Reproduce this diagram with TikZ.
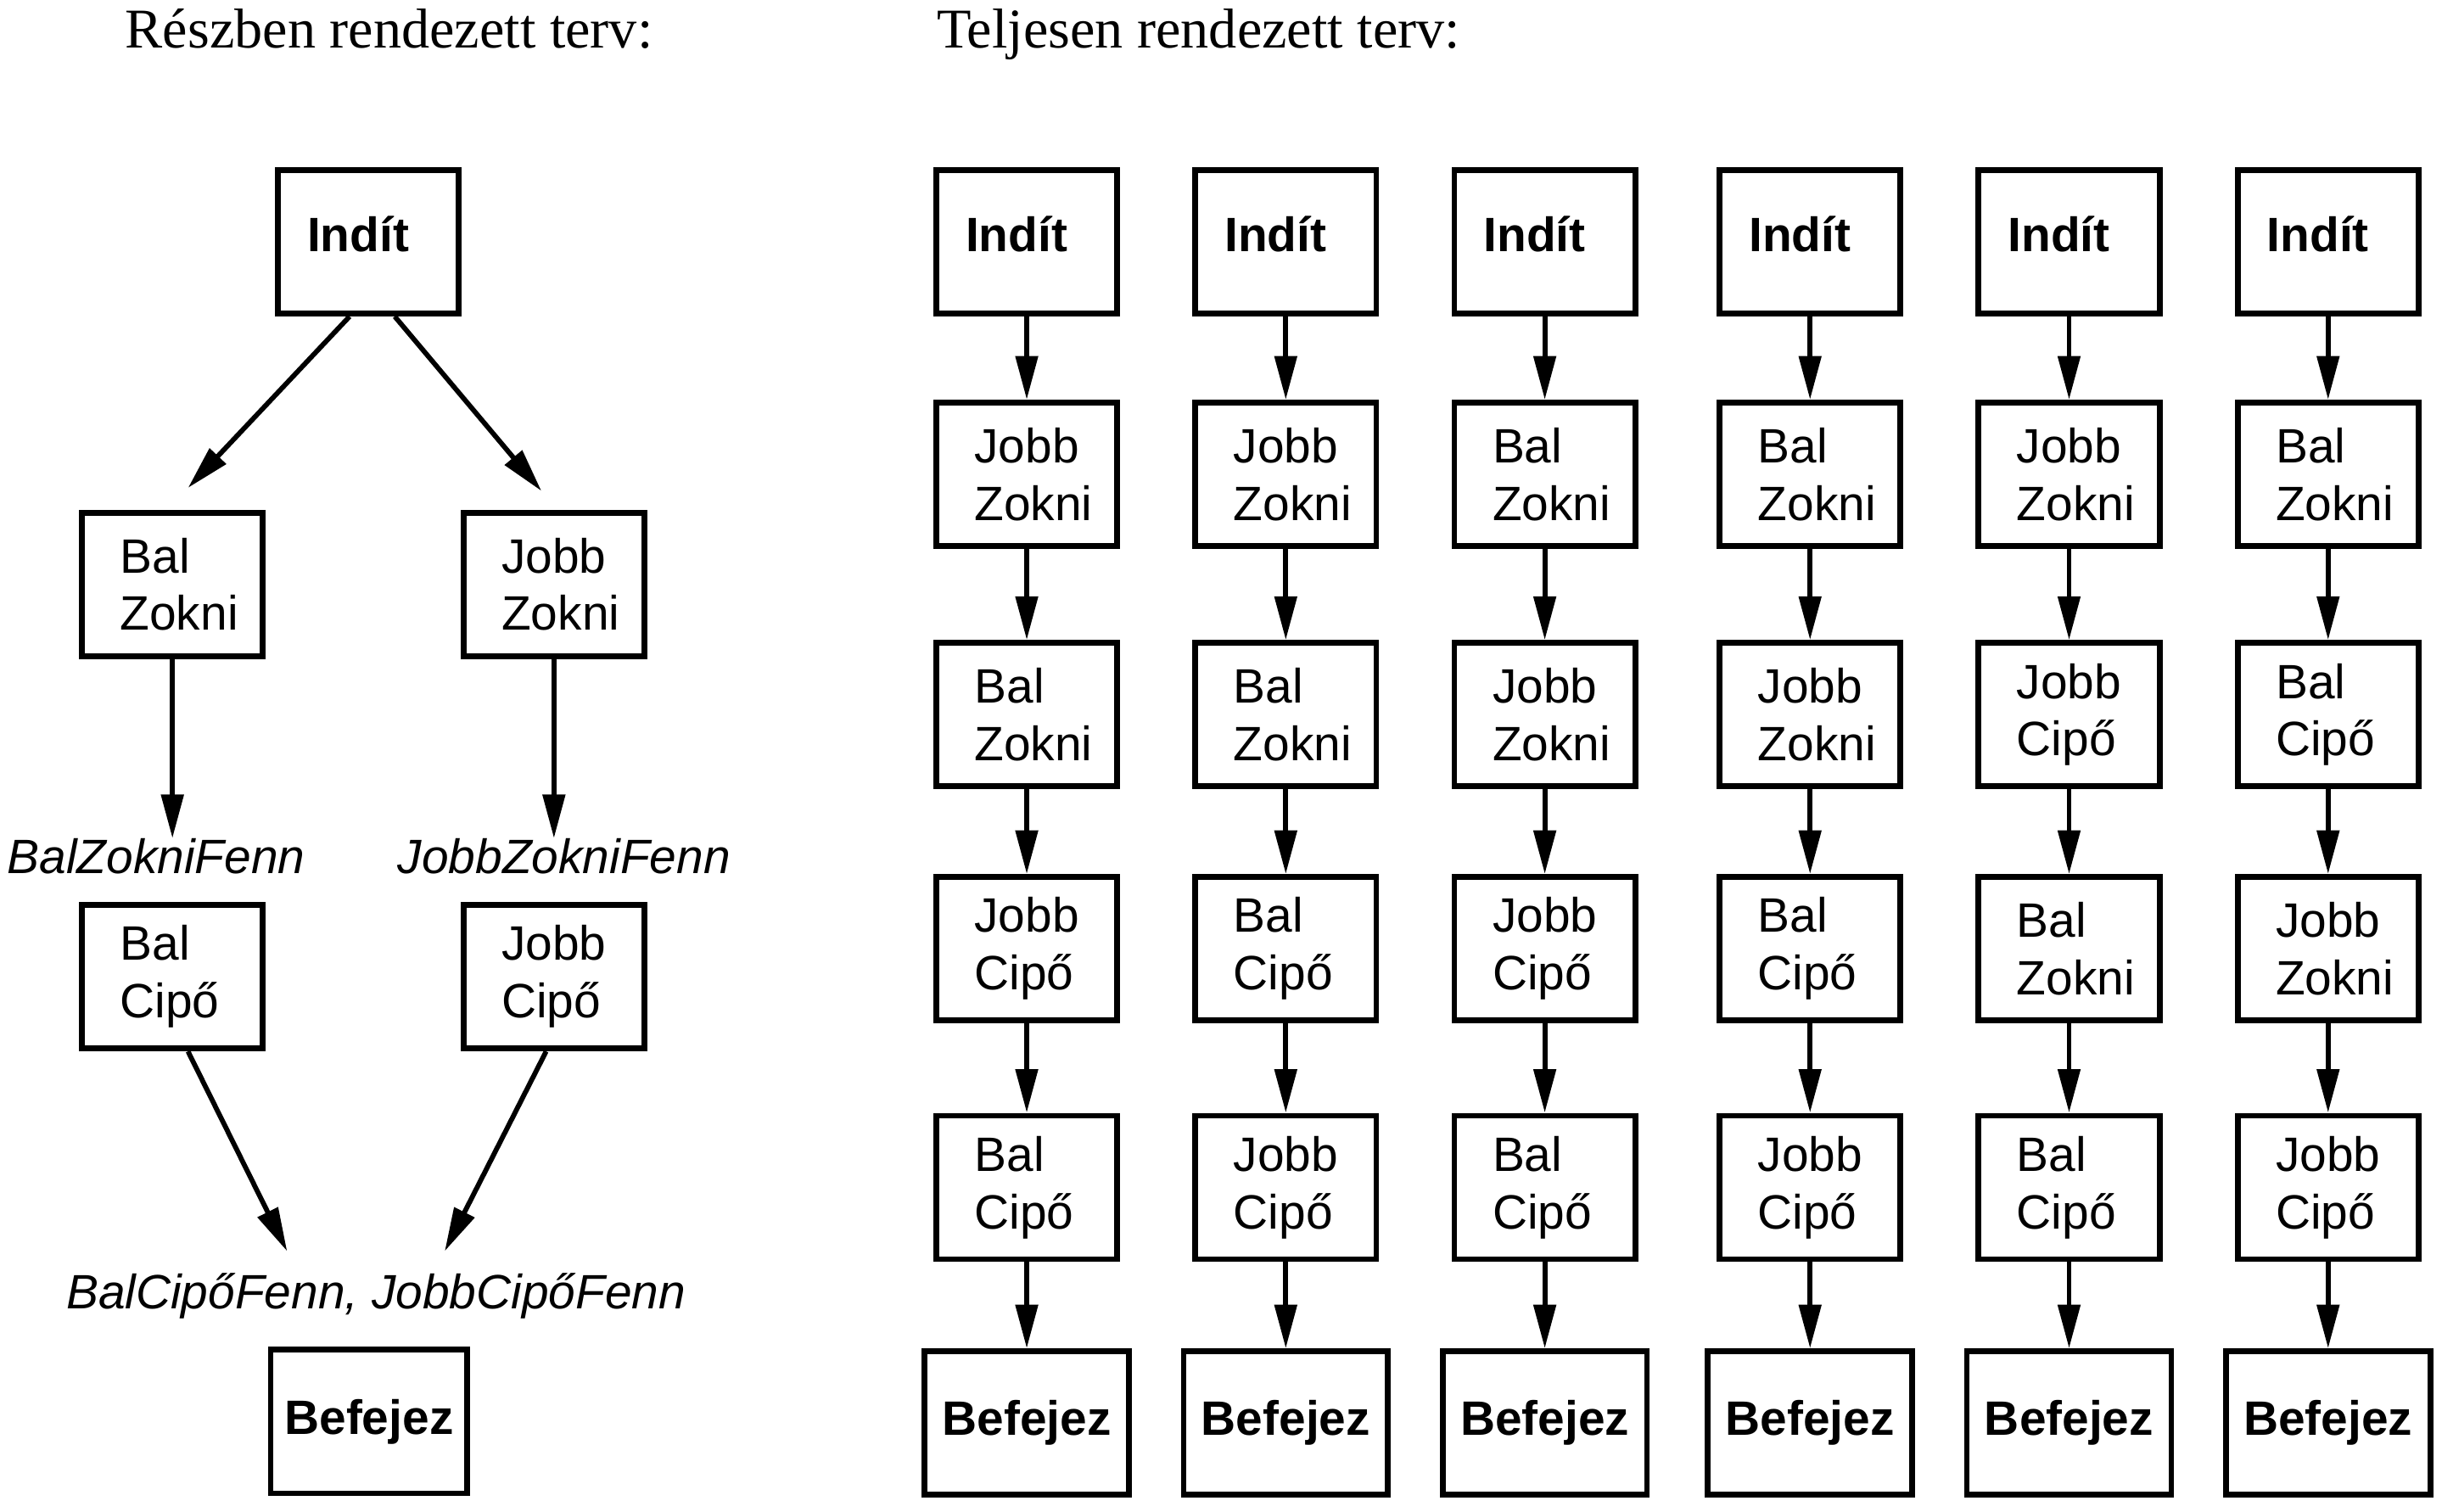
\documentclass[tikz,border=0pt]{standalone}
\usepackage{fontspec}
\setmainfont{Liberation Serif}
\setsansfont{Liberation Sans}
\usetikzlibrary{arrows.meta,calc}
\newcommand\JZ{Jobb\\Zokni}
\newcommand\BZ{Bal\\Zokni}
\newcommand\JC{Jobb\\Cipő}
\newcommand\BC{Bal\\Cipő}
\tikzset{
  boxbase/.style={draw, line width=2.1pt, minimum width=2.32cm, minimum height=1.84cm,
    inner sep=0pt, font=\sffamily\fontsize{17.6}{21}\selectfont},
  stepbox/.style={boxbase, align=left, text width=1.34cm},
  startbox/.style={boxbase, font=\sffamily\bfseries\fontsize{17.6}{21}\selectfont,
    text depth=0.2cm, execute at end node={\hspace*{0.26cm}}},
  endbox/.style={boxbase, minimum width=2.62cm, font=\sffamily\bfseries\fontsize{17.6}{21}\selectfont},
  cond/.style={inner sep=0pt, anchor=base, font=\sffamily\itshape\fontsize{17.6}{21}\selectfont},
  heading/.style={inner sep=0pt, anchor=base west, font=\fontsize{20.5}{24}\selectfont},
  arr/.style={line width=1.8pt, -{Triangle[length=5.6mm, width=2.8mm]}}
}

\begin{document}
\begin{tikzpicture}[x=0.02cm, y=-0.02cm]
  \useasboundingbox (0,0) rectangle (1565,969);
  %%%%% PARTIAL ORDER %%%%%
  \node[heading] (title1) at (80,31) {Részben rendezett terv:};

  \node[startbox] (indit) at (236,155) {Indít};
  \node[stepbox] (balzokni) at (110.5,374.5) {\BZ};
  \node[stepbox] (jobbzokni) at (355,374.5) {\JZ};
  \node[cond] (balzokniup) at (100,560) {BalZokniFenn};
  \node[cond] (jobbzokniup) at (361.5,560) {JobbZokniFenn};
  \node[stepbox] (balcipo) at (110.5,626) {\BC};
  \node[stepbox] (jobbcipo) at (355,626) {\JC};
  \node[cond] (cipoup) at (241,839) {BalCipőFenn, JobbCipőFenn};
  \node[endbox, minimum width=2.52cm] (befejez) at (236.5,911) {Befejez};

  \draw[arr] ($(indit.south)+(-12,0)$) -- ($(balzokni.north)+(10,-14)$);
  \draw[arr] ($(indit.south)+(17,0)$) -- ($(jobbzokni.north)+(-8,-12)$);
  \draw[arr] (balzokni) -- (balzokniup.north -| balzokni);
  \draw[arr] (jobbzokni) -- (jobbzokniup.north -| jobbzokni);
  \draw[arr] ($(balcipo.south)+(10,0)$) -- ($(cipoup.north)+(-57,-14)$);
  \draw[arr] ($(jobbcipo.south)+(-5,0)$) -- ($(cipoup.north)+(44,-14)$);

  %%%%% TOTAL ORDER %%%%%
  \node[heading] (title2) at (600,31) {Teljesen rendezett terv:};

  \foreach \col/\x/\ra/\rb/\rc/\rd in {1/658/\JZ/\BZ/\JC/\BC, 2/824/\JZ/\BZ/\BC/\JC,
      3/990/\BZ/\JZ/\JC/\BC, 4/1160/\BZ/\JZ/\BC/\JC,
      5/1326/\JZ/\JC/\BZ/\BC, 6/1492/\BZ/\BC/\JZ/\JC}{
    \node[startbox] (i\col) at (\x,155) {Indít};
    \node[stepbox] (a\col) at (\x,304) {\ra};
    \node[stepbox] (b\col) at (\x,458) {\rb};
    \node[stepbox] (c\col) at (\x,608) {\rc};
    \node[stepbox] (d\col) at (\x,761) {\rd};
    \node[endbox] (e\col) at (\x,912) {Befejez};
    \draw[arr] (i\col) -- (a\col);
    \draw[arr] (a\col) -- (b\col);
    \draw[arr] (b\col) -- (c\col);
    \draw[arr] (c\col) -- (d\col);
    \draw[arr] (d\col) -- (e\col);
  }
\end{tikzpicture}
\end{document}
